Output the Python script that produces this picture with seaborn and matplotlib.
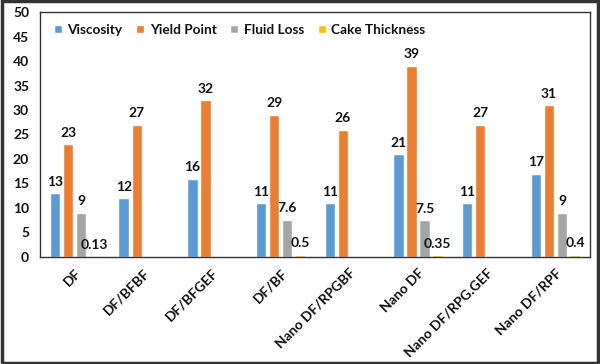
import numpy as np
import pandas as pd
import matplotlib
matplotlib.use("Agg")
import matplotlib.pyplot as plt
from matplotlib.patches import Rectangle
import seaborn as sns

# Data
categories = ["DF", "DF/BFBF", "DF/BFGEF", "DF/BF", "Nano DF/RPGBF",
              "Nano DF", "Nano DF/RPG.GEF", "Nano DF/RPF"]
viscosity = [13, 12, 16, 11, 11, 21, 11, 17]
yield_point = [23, 27, 32, 29, 26, 39, 27, 31]
fluid_loss = [9, np.nan, np.nan, 7.6, np.nan, 7.5, np.nan, 9]
cake_thickness = [0.13, np.nan, np.nan, 0.5, np.nan, 0.35, np.nan, 0.4]

series_names = ["Viscosity", "Yield Point", "Fluid Loss", "Cake Thickness"]
colors = ["#5B9BD5", "#ED7D31", "#A5A5A5", "#FFC000"]

df = pd.DataFrame({
    "Category": categories * 4,
    "Series": np.repeat(series_names, len(categories)),
    "Value": viscosity + yield_point + fluid_loss + cake_thickness,
})
df = df.dropna(subset=["Value"])

sns.set_style("white")
plt.rcParams["font.family"] = ["Lato", "DejaVu Sans"]
plt.rcParams["font.weight"] = "bold"

fig = plt.figure(figsize=(6, 3.64), dpi=100)
ax = fig.add_axes([0.067, 0.294, 0.916, 0.673])

sns.barplot(data=df, x="Category", y="Value", hue="Series",
            order=categories, hue_order=series_names, palette=colors,
            width=0.76, gap=0.2, dodge=True, errorbar=None, ax=ax,
            saturation=1)

# Data labels on top of bars
for cont in ax.containers:
    ax.bar_label(cont, labels=[f"{b.get_height():g}" for b in cont],
                 padding=4, fontsize=10, fontweight="bold", color="#111111")

ax.set_ylim(0, 50)
ax.set_yticks(np.arange(0, 51, 5))
ax.set_xlim(-0.5, len(categories) - 0.5)
ax.set_xlabel("")
ax.set_ylabel("")
ax.tick_params(axis="y", labelsize=10, length=0, pad=8)
ax.tick_params(axis="x", labelsize=10, length=0, pad=7)
for lbl in ax.get_yticklabels() + ax.get_xticklabels():
    lbl.set_fontweight("bold")
    lbl.set_color("#111111")
plt.setp(ax.get_xticklabels(), rotation=45, ha="right", rotation_mode="anchor")

for sp in ax.spines.values():
    sp.set_visible(True)
    sp.set_color("#333333")
    sp.set_linewidth(1.0)

leg = ax.legend(loc="upper left", ncol=4, frameon=False, fontsize=9.8,
                handlelength=0.6, handleheight=0.6, handletextpad=0.4,
                columnspacing=1.0, bbox_to_anchor=(0.01, 0.985),
                borderaxespad=0.2)
for t in leg.get_texts():
    t.set_fontweight("bold")
    t.set_color("#111111")

# outer frame around the whole picture
fig.patches.append(Rectangle((0.003, 0.004), 0.994, 0.992, transform=fig.transFigure,
                             fill=False, edgecolor="#333333", linewidth=2.5))

fig.savefig("out.png", dpi=100)
